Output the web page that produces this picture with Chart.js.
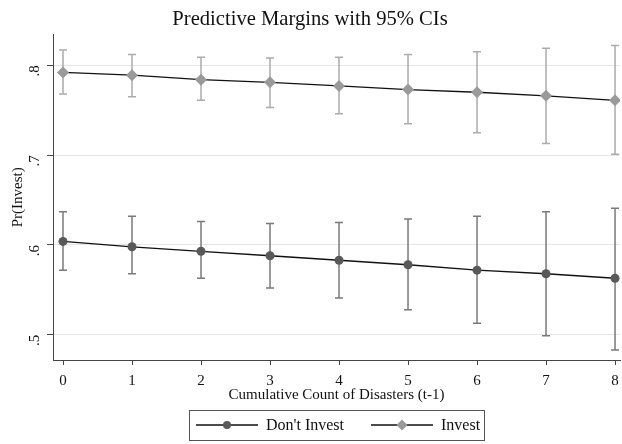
<!DOCTYPE html>
<html>
<head>
<meta charset="utf-8">
<script src="https://cdn.jsdelivr.net/npm/chart.js@4.4.0/dist/chart.umd.min.js"></script>
<style>
html, body { margin: 0; padding: 0; background: #fff; }
#wrap { width: 622px; height: 444px; }
</style>
</head>
<body>
<div id="wrap"><canvas id="marginsChart"></canvas></div>
<script>
const counts = [0, 1, 2, 3, 4, 5, 6, 7, 8];
const dontInvest = [0.604, 0.598, 0.593, 0.588, 0.583, 0.578, 0.572, 0.568, 0.563];
const dontInvestLow = [0.572, 0.568, 0.563, 0.552, 0.541, 0.528, 0.513, 0.499, 0.483];
const dontInvestHigh = [0.637, 0.632, 0.626, 0.624, 0.625, 0.629, 0.632, 0.637, 0.641];
const invest = [0.792, 0.789, 0.784, 0.781, 0.777, 0.773, 0.770, 0.766, 0.761];
const investLow = [0.768, 0.765, 0.761, 0.753, 0.746, 0.735, 0.725, 0.713, 0.701];
const investHigh = [0.817, 0.812, 0.809, 0.808, 0.809, 0.812, 0.815, 0.819, 0.822];
const yTicks = [0.5, 0.6, 0.7, 0.8];

const serif = "'Liberation Serif', 'Times New Roman', serif";

// marqueur (cercle ou losange) centré en x, y
function drawMarker(g, style, x, y, r, color) {
    g.fillStyle = color;
    g.beginPath();
    if (style === "circle") {
        g.arc(x, y, r, 0, Math.PI * 2);
    } else {
        g.moveTo(x, y - r);
        g.lineTo(x + r, y);
        g.lineTo(x, y + r);
        g.lineTo(x - r, y);
        g.closePath();
    }
    g.fill();
}

// barres d'intervalle de confiance, dessinées sous les marqueurs
const errorBars = {
    id: "errorBars",
    beforeDatasetsDraw(chart) {
        const ctx = chart.ctx;
        const xs = chart.scales.x;
        const ys = chart.scales.y;
        chart.data.datasets.forEach(ds => {
            ctx.save();
            ctx.strokeStyle = ds.barColor;
            ctx.lineWidth = 1.5;
            counts.forEach((c, i) => {
                const px = xs.getPixelForValue(c);
                const top = ys.getPixelForValue(ds.high[i]);
                const bot = ys.getPixelForValue(ds.low[i]);
                ctx.beginPath();
                ctx.moveTo(px, top); ctx.lineTo(px, bot);
                ctx.moveTo(px - 4, top); ctx.lineTo(px + 4, top);
                ctx.moveTo(px - 4, bot); ctx.lineTo(px + 4, bot);
                ctx.stroke();
            });
            ctx.restore();
        });
    }
};

// légende encadrée sous le graphique
const boxedLegend = {
    id: "boxedLegend",
    afterDraw(chart) {
        const ctx = chart.ctx;
        const area = chart.chartArea;
        ctx.save();
        ctx.font = "16px " + serif;
        ctx.textBaseline = "middle";
        const symW = 62, gapText = 8, gapItem = 27, padL = 7, padR = 4;
        const widths = chart.data.datasets.map(ds => ctx.measureText(ds.label).width);
        let total = padL + padR;
        widths.forEach((w, i) => { total += symW + gapText + w + (i > 0 ? gapItem : 0); });
        const left = Math.round((area.left + area.right) / 2 - total / 2);
        const top = chart.height - 34;
        const h = 30;
        const cy = top + h / 2;
        ctx.strokeStyle = "#555";
        ctx.lineWidth = 1;
        ctx.strokeRect(left + 0.5, top + 0.5, Math.round(total), h);
        let x = left + padL;
        chart.data.datasets.forEach((ds, i) => {
            if (i > 0) x += gapItem;
            ctx.strokeStyle = "#111";
            ctx.lineWidth = 1.3;
            ctx.beginPath();
            ctx.moveTo(x, cy);
            ctx.lineTo(x + symW, cy);
            ctx.stroke();
            drawMarker(ctx, ds.pointStyle === "circle" ? "circle" : "diamond", x + symW / 2, cy, ds.pointStyle === "circle" ? 4 : 5.5, ds.pointBackgroundColor);
            x += symW + gapText;
            ctx.fillStyle = "#111";
            ctx.fillText(ds.label, x, cy + 1);
            x += widths[i];
        });
        ctx.restore();
    }
};

const ctx = document.getElementById("marginsChart").getContext("2d");
const marginsChart = new Chart(ctx, {
    type: "line",
    data: {
        datasets: [
            {
                label: "Don't Invest",
                data: counts.map((c, i) => ({ x: c, y: dontInvest[i] })),
                low: dontInvestLow,
                high: dontInvestHigh,
                barColor: "#7a7a7a",
                borderColor: "#111",
                borderWidth: 1.3,
                pointStyle: "circle",
                pointRadius: 4.5,
                pointBackgroundColor: "#595959",
                pointBorderWidth: 0
            },
            {
                label: "Invest",
                data: counts.map((c, i) => ({ x: c, y: invest[i] })),
                low: investLow,
                high: investHigh,
                barColor: "#ababab",
                borderColor: "#111",
                borderWidth: 1.3,
                pointStyle: "rectRot",
                pointRadius: 6,
                pointBackgroundColor: "#9a9a9a",
                pointBorderWidth: 0
            }
        ]
    },
    options: {
        responsive: true,
        maintainAspectRatio: false,
        animation: false,
        layout: { autoPadding: false, padding: { left: 0, right: 2, top: 0, bottom: 40 } },
        plugins: {
            title: {
                display: true,
                text: "Predictive Margins with 95% CIs",
                color: "#111",
                font: { family: serif, size: 20.6, weight: "normal" },
                padding: { top: 7, bottom: 3 }
            },
            legend: { display: false },
            tooltip: { enabled: false }
        },
        scales: {
            x: {
                type: "linear",
                min: -0.145,
                max: 8.072,
                afterBuildTicks: scale => { scale.ticks = counts.map(v => ({ value: v })); },
                afterFit: scale => { scale.height = 44; scale.paddingRight = 0; scale.paddingLeft = 0; },
                grid: { drawOnChartArea: false, drawTicks: true, tickLength: 5, tickColor: "#444" },
                border: { display: true, color: "#444", width: 1 },
                ticks: { color: "#111", padding: 7, font: { family: serif, size: 15 } },
                title: {
                    display: true,
                    text: "Cumulative Count of Disasters (t-1)",
                    color: "#111",
                    font: { family: serif, size: 15 },
                    padding: { top: 0, bottom: 0 }
                }
            },
            y: {
                min: 0.472,
                max: 0.834,
                afterBuildTicks: scale => { scale.ticks = yTicks.map(v => ({ value: v })); },
                afterFit: scale => { scale.width = 53; scale.paddingTop = 0; scale.paddingBottom = 0; },
                grid: { color: "#e6e6e6", lineWidth: 1, tickLength: 6, tickColor: "#444" },
                border: { display: true, color: "#444", width: 1 },
                ticks: {
                    color: "#111",
                    padding: 12,
                    minRotation: 90,
                    maxRotation: 90,
                    font: { family: serif, size: 15 },
                    callback: v => v.toFixed(1).replace(/^0/, "")
                },
                title: {
                    display: true,
                    text: "Pr(Invest)",
                    color: "#111",
                    font: { family: serif, size: 15 },
                    padding: { top: 9, bottom: 0 }
                }
            }
        }
    },
    plugins: [errorBars, boxedLegend]
});
</script>
</body>
</html>
